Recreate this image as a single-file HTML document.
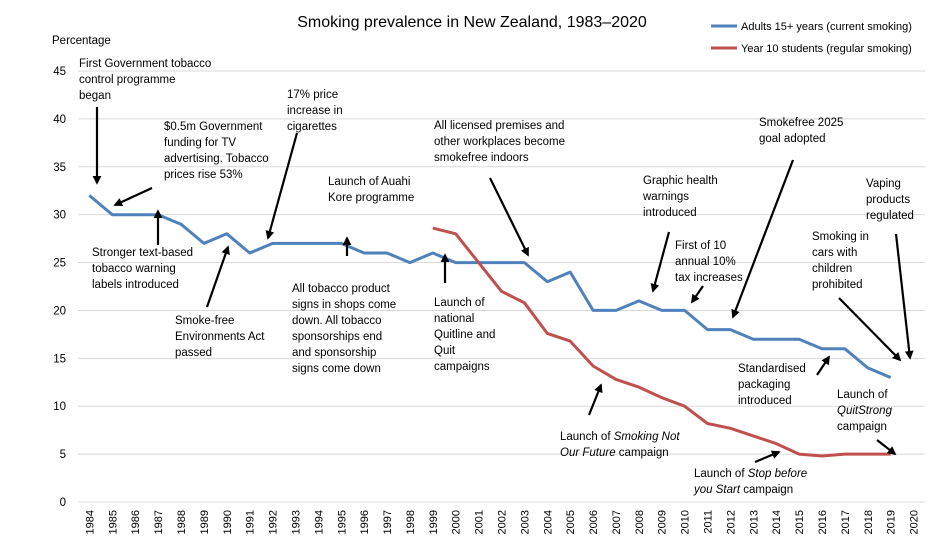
<!DOCTYPE html>
<html><head><meta charset="utf-8"><style>
body{margin:0;background:#fff}
svg{display:block;font-family:"Liberation Sans",sans-serif}
.ann{font-size:11.5px;fill:#000}
</style></head><body>
<svg id="chart" width="944" height="558" viewBox="0 0 944 558">
<defs><marker id="ah" viewBox="0 0 10 10" refX="8" refY="5" markerWidth="4" markerHeight="4" orient="auto"><path d="M0,0L10,5L0,10z" fill="#000"/></marker></defs>
<text x="472" y="27" text-anchor="middle" font-size="16">Smoking prevalence in New Zealand, 1983–2020</text>
<text x="52" y="44" font-size="11.5">Percentage</text>
<g>
<line x1="711" y1="26" x2="737" y2="26" stroke="#4f81bd" stroke-width="3"/>
<text x="741" y="30" font-size="11">Adults 15+ years (current smoking)</text>
<line x1="711" y1="48" x2="737" y2="48" stroke="#c0504d" stroke-width="3"/>
<text x="741" y="52" font-size="11">Year 10 students (regular smoking)</text>
</g>
<g id="grid"></g><g id="xt"></g><g id="series"></g>
<g stroke="#000" stroke-width="2.2" marker-end="url(#ah)">
<line x1="97" y1="107" x2="97" y2="183"/>
<line x1="152" y1="188" x2="115" y2="205"/>
<line x1="158" y1="245" x2="158" y2="211"/>
<line x1="207" y1="307" x2="228" y2="247"/>
<line x1="297" y1="133" x2="268" y2="238"/>
<line x1="347" y1="256" x2="347" y2="238"/>
<line x1="445" y1="283" x2="445" y2="255"/>
<line x1="490" y1="178" x2="528" y2="255"/>
<line x1="669" y1="232" x2="653" y2="291"/>
<line x1="703" y1="286" x2="692" y2="302"/>
<line x1="793" y1="160" x2="733" y2="317"/>
<line x1="817" y1="375" x2="829" y2="357"/>
<line x1="589" y1="415" x2="601" y2="385"/>
<line x1="755" y1="462" x2="779" y2="452"/>
<line x1="877" y1="440" x2="895" y2="454"/>
<line x1="839" y1="298" x2="900" y2="360"/>
<line x1="896" y1="234" x2="910" y2="358"/>
</g>
<g class="ann">
<text class="ann" x="79" y="67">First Government tobacco</text><text class="ann" x="79" y="83">control programme</text><text class="ann" x="79" y="99">began</text>
<text class="ann" x="164" y="130">$0.5m Government</text><text class="ann" x="164" y="146">funding for TV</text><text class="ann" x="164" y="162">advertising. Tobacco</text><text class="ann" x="164" y="178">prices rise 53%</text>
<text class="ann" x="92" y="256">Stronger text-based</text><text class="ann" x="92" y="272">tobacco warning</text><text class="ann" x="92" y="288">labels introduced</text>
<text class="ann" x="175" y="324">Smoke-free</text><text class="ann" x="175" y="340">Environments Act</text><text class="ann" x="175" y="356">passed</text>
<text class="ann" x="287" y="98">17% price</text><text class="ann" x="287" y="114">increase in</text><text class="ann" x="287" y="130">cigarettes</text>
<text class="ann" x="328" y="185">Launch of Auahi</text><text class="ann" x="328" y="201">Kore programme</text>
<text class="ann" x="292" y="292">All tobacco product</text><text class="ann" x="292" y="308">signs in shops come</text><text class="ann" x="292" y="324">down. All tobacco</text><text class="ann" x="292" y="340">sponsorships end</text><text class="ann" x="292" y="356">and sponsorship</text><text class="ann" x="292" y="372">signs come down</text>
<text class="ann" x="434" y="129">All licensed premises and</text><text class="ann" x="434" y="145">other workplaces become</text><text class="ann" x="434" y="161">smokefree indoors</text>
<text class="ann" x="434" y="306">Launch of</text><text class="ann" x="434" y="322">national</text><text class="ann" x="434" y="338">Quitline and</text><text class="ann" x="434" y="354">Quit</text><text class="ann" x="434" y="370">campaigns</text>
<text class="ann" x="643" y="184">Graphic health</text><text class="ann" x="643" y="200">warnings</text><text class="ann" x="643" y="216">introduced</text>
<text class="ann" x="675" y="249">First of 10</text><text class="ann" x="675" y="265">annual 10%</text><text class="ann" x="675" y="281">tax increases</text>
<text class="ann" x="759" y="126">Smokefree 2025</text><text class="ann" x="759" y="142">goal adopted</text>
<text class="ann" x="866" y="187">Vaping</text><text class="ann" x="866" y="203">products</text><text class="ann" x="866" y="219">regulated</text>
<text class="ann" x="812" y="240">Smoking in</text><text class="ann" x="812" y="256">cars with</text><text class="ann" x="812" y="272">children</text><text class="ann" x="812" y="288">prohibited</text>
<text class="ann" x="738" y="372">Standardised</text><text class="ann" x="738" y="388">packaging</text><text class="ann" x="738" y="404">introduced</text>
<text class="ann" x="837" y="398">Launch of</text><text class="ann" x="837" y="414" font-style="italic">QuitStrong</text><text class="ann" x="837" y="430">campaign</text>
<text class="ann" x="560" y="440">Launch of <tspan font-style="italic">Smoking Not</tspan></text><text class="ann" x="560" y="456"><tspan font-style="italic">Our Future</tspan> campaign</text>
<text class="ann" x="694" y="477">Launch of <tspan font-style="italic">Stop before</tspan></text><text class="ann" x="694" y="493"><tspan font-style="italic">you Start</tspan> campaign</text>
</g>
</svg>
<script>
const years=[];for(let y=1984;y<=2020;y++)years.push(y);
const yTicks=[0,5,10,15,20,25,30,35,40,45];
const adultYears=[1984,1985,1986,1987,1988,1989,1990,1991,1992,1993,1994,1995,1996,1997,1998,1999,2000,2001,2002,2003,2004,2005,2006,2007,2008,2009,2010,2011,2012,2013,2014,2015,2016,2017,2018,2019];
const adultValues=[32,30,30,30,29,27,28,26,27,27,27,27,26,26,25,26,25,25,25,25,23,24,20,20,21,20,20,18,18,17,17,17,16,16,14,13];
const y10Years=[1999,2000,2001,2002,2003,2004,2005,2006,2007,2008,2009,2010,2011,2012,2013,2014,2015,2016,2017,2018,2019];
const y10Values=[28.6,28,25,22,20.8,17.6,16.8,14.2,12.8,12,10.9,10,8.2,7.7,6.9,6.1,5,4.8,5,5,5];
const NS='http://www.w3.org/2000/svg';
const L=78,R=925,T=71,B=502;
const band=(R-L)/years.length;
const xS=yr=>L+band*(years.indexOf(yr)+0.5);
const yS=v=>B-(v/45)*(B-T);
function mk(tag,attrs,parent){const e=document.createElementNS(NS,tag);for(const k in attrs)e.setAttribute(k,attrs[k]);parent.appendChild(e);return e;}
const grid=document.getElementById('grid');
yTicks.forEach(t=>{
 const l=mk('line',{x1:L,x2:R,y1:yS(t),y2:yS(t),stroke:'#d9d9d9','stroke-width':1},grid);
 
 
 const tx=mk('text',{x:66,y:yS(t)+4,'text-anchor':'end','font-size':11.5},grid);tx.textContent=t;
 
 
});
const xt=document.getElementById('xt');
years.forEach(yr=>{
 const x=xS(yr)+4;
 const tx=mk('text',{x:x,y:510,'text-anchor':'end','font-size':11,transform:`rotate(-90 ${x} 510)`},xt);tx.textContent=yr;
 
 
});
const s=document.getElementById('series');
function line(xsA,vals,color,name){
 const d=vals.map((v,i)=>(i?'L':'M')+xS(xsA[i]).toFixed(1)+','+yS(v).toFixed(1)).join('');
 const p=mk('path',{d:d,fill:'none',stroke:color,'stroke-width':3,'stroke-linejoin':'round'},s);
 
 
}
line(adultYears,adultValues,'#4f81bd','adults-line');
line(y10Years,y10Values,'#c0504d','year10-line');
</script>
</body></html>
